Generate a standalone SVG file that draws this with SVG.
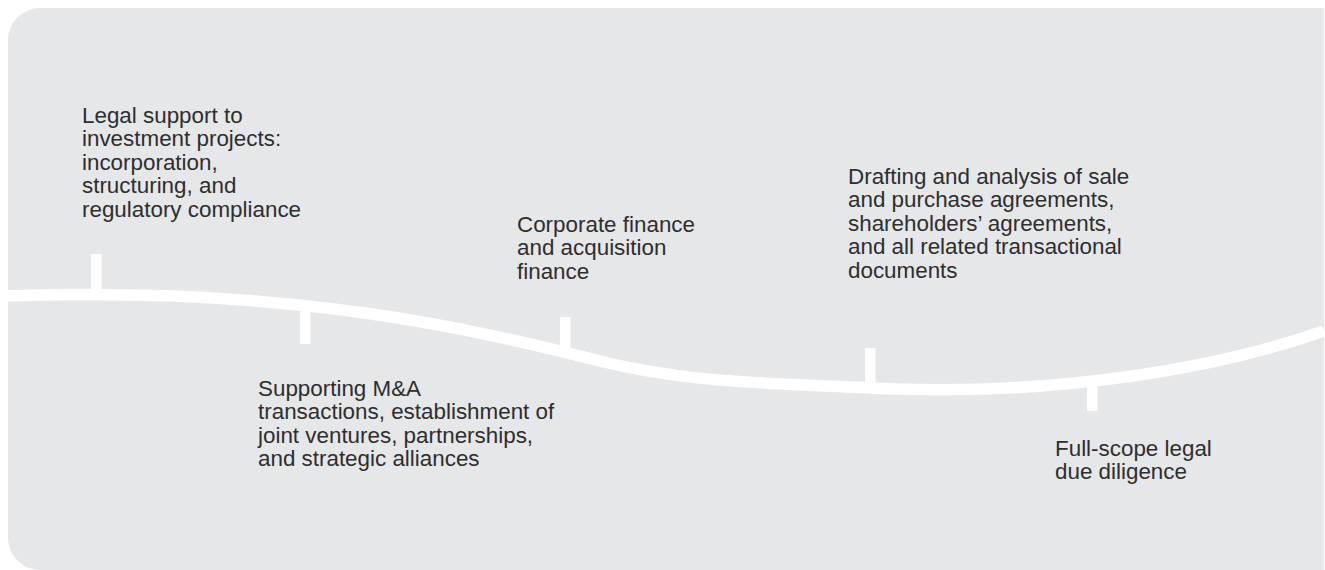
<svg xmlns="http://www.w3.org/2000/svg" width="1325" height="570" viewBox="0 0 1325 570">
<style>
.lbl{font-family:"Liberation Sans",Arial,sans-serif;font-size:22.4px;fill:#2e2e2e}
.tick{fill:#ffffff}
.curve{fill:none;stroke:#ffffff;stroke-width:11.5}
</style>
<rect width="1325" height="570" fill="#ffffff"/>
<path id="panel" d="M8,40 A32,32 0 0 1 40,8 H1324 V570 H40 A32,32 0 0 1 8,538 Z" fill="#e6e7e9"/>
<g id="connectors">
<path class="curve" d="M8,296 C300,286 480,331 600,361 C690,383.5 780,383.5 870,388 C1050,397 1214,369.5 1324,331"/>
</g>
<g id="node1">
<rect class="tick" x="91" y="254" width="10.5" height="38"/>
<text class="lbl" x="82" y="123"><tspan x="82">Legal support to</tspan><tspan x="82" dy="23.4">investment projects:</tspan><tspan x="82" dy="23.4">incorporation,</tspan><tspan x="82" dy="23.4">structuring, and</tspan><tspan x="82" dy="23.4">regulatory compliance</tspan></text>
</g>
<g id="node2">
<rect class="tick" x="300" y="305" width="10.5" height="39"/>
<text class="lbl" x="258" y="396"><tspan x="258">Supporting M&amp;A</tspan><tspan x="258" dy="23.4">transactions, establishment of</tspan><tspan x="258" dy="23.4">joint ventures, partnerships,</tspan><tspan x="258" dy="23.4">and strategic alliances</tspan></text>
</g>
<g id="node3">
<rect class="tick" x="560" y="317" width="10.5" height="36"/>
<text class="lbl" x="517" y="232"><tspan x="517">Corporate finance</tspan><tspan x="517" dy="23.4">and acquisition</tspan><tspan x="517" dy="23.4">finance</tspan></text>
</g>
<g id="node4">
<rect class="tick" x="865" y="348" width="10.5" height="40"/>
<text class="lbl" x="848" y="184"><tspan x="848">Drafting and analysis of sale</tspan><tspan x="848" dy="23.4">and purchase agreements,</tspan><tspan x="848" dy="23.4">shareholders’ agreements,</tspan><tspan x="848" dy="23.4">and all related transactional</tspan><tspan x="848" dy="23.4">documents</tspan></text>
</g>
<g id="node5">
<rect class="tick" x="1087" y="380" width="10.5" height="31"/>
<text class="lbl" x="1055" y="456"><tspan x="1055">Full-scope legal</tspan><tspan x="1055" dy="23.4">due diligence</tspan></text>
</g>
</svg>
